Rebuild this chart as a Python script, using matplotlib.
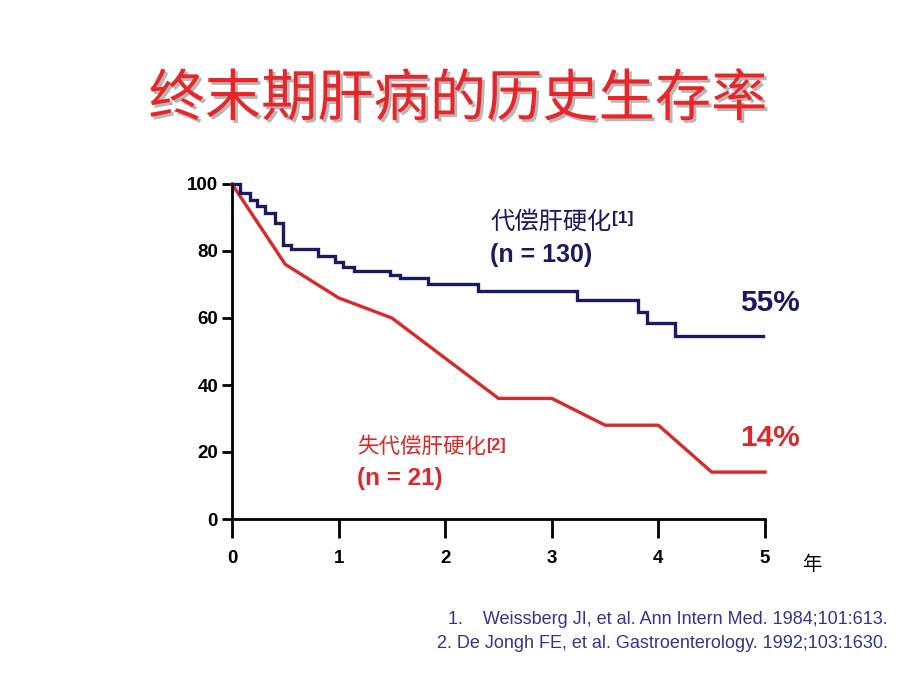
import matplotlib
matplotlib.use("Agg")
import matplotlib.pyplot as plt
import matplotlib.patheffects as pe

plt.rcParams['font.family'] = ['Liberation Sans', 'Noto Sans CJK SC', 'DejaVu Sans']

# ---- data ----
comp_x = [0, 0.075, 0.17, 0.23, 0.31, 0.40, 0.48, 0.55, 0.81, 0.97, 1.04, 1.14,
          1.48, 1.58, 1.84, 2.31, 3.24, 3.81, 3.89, 4.16, 4.98]
comp_y = [100, 97.3, 95.2, 93.4, 91.3, 88.4, 81.8, 80.6, 78.5, 76.7, 75.2, 74.0,
          72.8, 72.0, 70.2, 68.0, 65.5, 61.8, 58.5, 54.5, 54.5]
decomp_x = [0, 0.5, 1, 1.5, 2, 2.5, 3, 3.5, 4, 4.5, 5]
decomp_y = [100, 76, 66, 60, 48, 36, 36, 28, 28, 14, 14]
x_ticks = [0, 1, 2, 3, 4, 5]
y_ticks = [0, 20, 40, 60, 80, 100]

title = "终末期肝病的历史生存率"
comp_label = "代偿肝硬化"
comp_n = "(n = 130)"
comp_pct = "55%"
decomp_label = "失代偿肝硬化"
decomp_n = "(n = 21)"
decomp_pct = "14%"
refs = ["1.    Weissberg JI, et al. Ann Intern Med. 1984;101:613.",
        "2. De Jongh FE, et al. Gastroenterology. 1992;103:1630."]

BLUE = "#1b1a5e"
RED = "#d62b2b"
REF_BLUE = "#34348e"

fig = plt.figure(figsize=(9.2, 6.9), dpi=100)
fig.patch.set_facecolor("white")
W, H = 920, 690
ax = fig.add_axes([232 / W, 1 - 519 / H, (765 - 232) / W, (519 - 184) / H])

ax.step(comp_x, comp_y, where='post', color=BLUE, lw=2.4, solid_joinstyle='miter', zorder=3)
ax.plot(decomp_x, decomp_y, color=RED, lw=2.4, zorder=2)

ax.set_xlim(0, 5)
ax.set_ylim(0, 100)
ax.set_xticks(x_ticks)
ax.set_yticks(y_ticks)
ax.set_xticklabels([str(v) for v in x_ticks], fontsize=13.5, fontweight='bold')
ax.set_yticklabels([str(v) for v in y_ticks], fontsize=13.5, fontweight='bold')
ax.tick_params(axis='x', direction='out', length=14, width=2, pad=8)
ax.tick_params(axis='y', direction='out', length=7, width=2, pad=3)
for s in ['top', 'right']:
    ax.spines[s].set_visible(False)
for s in ['left', 'bottom']:
    ax.spines[s].set_linewidth(2)
for ln in ax.lines:
    ln.set_clip_on(False)

# year label
fig.text(812 / W, 1 - 564 / H, "年", fontsize=14, family=['Noto Sans CJK SC'],
         ha='center', va='center', color='black')

# compensated labels
t1 = ax.text(2.42, 88.7, comp_label, fontsize=17.5, color=BLUE, family=['Noto Sans CJK SC'],
             ha='left', va='center')
ax.annotate("[1]", xy=(1, 0.92), xycoords=t1, ha='left', va='top', fontsize=12.5,
            fontweight='bold', color=BLUE, xytext=(0.5, 0), textcoords='offset points')
ax.text(2.42, 78.8, comp_n, fontsize=18, fontweight='bold', color=BLUE, ha='left', va='center')
ax.text(4.77, 64.5, comp_pct, fontsize=21.5, fontweight='bold', color=BLUE, ha='left', va='center')

# decompensated labels
t2 = ax.text(1.17, 21.5, decomp_label, fontsize=15.5, color=RED, family=['Noto Sans CJK SC'],
             ha='left', va='center')
ax.annotate("[2]", xy=(1, 0.92), xycoords=t2, ha='left', va='top', fontsize=11.5,
            fontweight='bold', color=RED, xytext=(0.5, 0), textcoords='offset points')
ax.text(1.17, 12.2, decomp_n, fontsize=17.5, fontweight='bold', color=RED, ha='left', va='center')
ax.text(4.77, 24.2, decomp_pct, fontsize=21.5, fontweight='bold', color=RED, ha='left', va='center')

# title
fig.text(458 / W, 1 - 100 / H, title, fontsize=40.5, color='#e8262a', family=['Noto Sans CJK SC'],
         fontweight='light', ha='center', va='center',
         path_effects=[pe.withSimplePatchShadow(offset=(2, -2), shadow_rgbFace='#888888', alpha=0.6)])

# references
fig.text(888 / W, 1 - 620 / H, refs[0], fontsize=13, color=REF_BLUE, ha='right', va='center')
fig.text(888 / W, 1 - 643 / H, refs[1], fontsize=13, color=REF_BLUE, ha='right', va='center')

fig.savefig("out.png", dpi=100)
